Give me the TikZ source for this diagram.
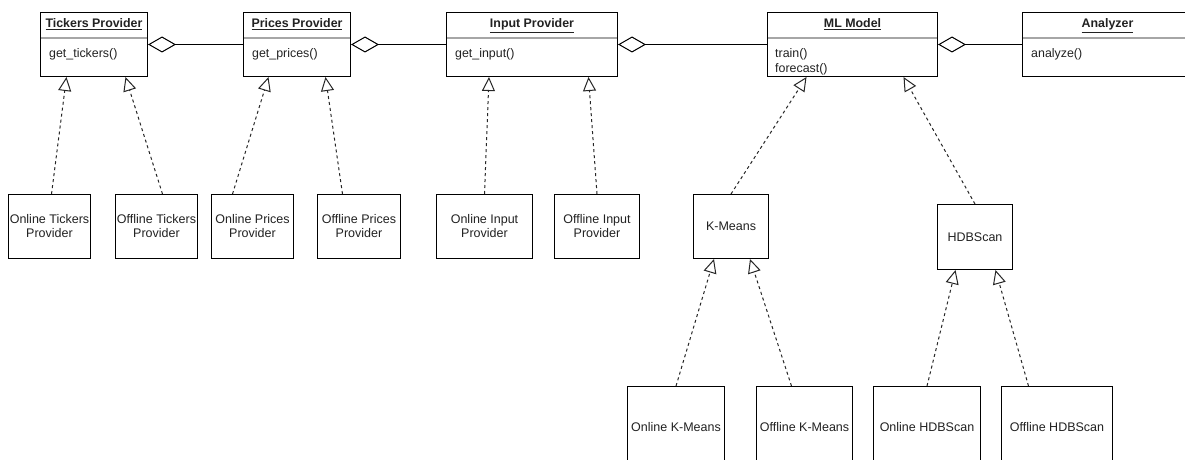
\documentclass[tikz,border=0pt]{standalone}
\usepackage{fontspec}
\setmainfont{Liberation Sans}
\usetikzlibrary{arrows.meta}
\definecolor{txt}{HTML}{222222}
\tikzset{
  box/.style={draw=black, line width=1pt, inner sep=0pt, anchor=north west, fill=white},
  clsbox/.style={box},
  title/.style={anchor=base, inner sep=0pt, font=\fontsize{12.4}{14}\selectfont\bfseries, text=txt},
  meth/.style={anchor=base west, inner sep=0pt, font=\fontsize{12.4}{15}\selectfont, text=txt, align=left},
  lbl/.style={align=center, font=\fontsize{12.5}{14}\selectfont, text=txt},
  sep/.style={draw=black!35, line width=1.6pt},
  realize/.style={draw=black!85, line width=1pt, dash pattern=on 3pt off 3pt,
    -{Triangle[length=14pt,width=13pt,fill=white,line width=1pt]}},
  aggr/.style={draw=black, line width=1pt,
    {Diamond[length=28pt,width=16pt,fill=white,line width=1pt]}-},
}
\begin{document}
\begin{tikzpicture}[x=1pt,y=-1pt]
\useasboundingbox (0,0) rectangle (1185,460);
\clip (0,0) rectangle (1185,460);
\fill[white] (0,0) rectangle (1185,460);

% top classes
\node[clsbox, minimum width=107, minimum height=64] (tp) at (40,12) {};
\node[clsbox, minimum width=107, minimum height=64] (pp) at (243,12) {};
\node[clsbox, minimum width=171, minimum height=64] (ip) at (446,12) {};
\node[clsbox, minimum width=170, minimum height=64] (ml) at (767,12) {};
\node[clsbox, minimum width=170, minimum height=64] (an) at (1022,12) {};

\foreach \n in {tp,pp,ip,ml,an}{
  \draw[sep] ([yshift=-26pt,xshift=1pt]\n.north west) -- ([yshift=-26pt,xshift=-1pt]\n.north east);
}

\node[title] (tpT) at ([yshift=-16pt]tp.north) {\underline{Tickers Provider}};
\node[title] (ppT) at ([yshift=-16pt]pp.north) {\underline{Prices Provider}};
\node[title] (ipT) at ([yshift=-16pt]ip.north) {\underline{Input Provider}};
\node[title] (mlT) at ([yshift=-16pt]ml.north) {\underline{ML Model}};
\node[title] (anT) at ([yshift=-16pt]an.north) {\underline{Analyzer}};

\node[meth] (tpM) at ([xshift=9pt,yshift=-45pt]tp.north west) {get\_tickers()};
\node[meth] (ppM) at ([xshift=9pt,yshift=-45pt]pp.north west) {get\_prices()};
\node[meth] (ipM) at ([xshift=9pt,yshift=-45pt]ip.north west) {get\_input()};
\node[meth, anchor=north west] (mlM) at ([xshift=8pt,yshift=-36pt]ml.north west) {train()\\forecast()};
\node[meth] (anM) at ([xshift=9pt,yshift=-45pt]an.north west) {analyze()};

% aggregations
\draw[aggr] (tp.east) -- (pp.west);
\draw[aggr] (pp.east) -- (ip.west);
\draw[aggr] (ip.east) -- (ml.west);
\draw[aggr] (ml.east) -- (an.west);

% implementation boxes
\node[box, minimum width=82, minimum height=64] (ot) at (8,194) {};
\node[lbl] (otL) at (ot.center) {Online Tickers\\Provider};
\node[box, minimum width=82, minimum height=64] (ft) at (115,194) {};
\node[lbl] (ftL) at (ft.center) {Offline Tickers\\Provider};
\node[box, minimum width=82, minimum height=64] (op) at (211,194) {};
\node[lbl] (opL) at (op.center) {Online Prices\\Provider};
\node[box, minimum width=83, minimum height=64] (fp) at (317,194) {};
\node[lbl] (fpL) at (fp.center) {Offline Prices\\Provider};
\node[box, minimum width=96, minimum height=64] (oi) at (436,194) {};
\node[lbl] (oiL) at (oi.center) {Online Input\\Provider};
\node[box, minimum width=85, minimum height=64] (fi) at (554,194) {};
\node[lbl] (fiL) at (fi.center) {Offline Input\\Provider};
\node[box, minimum width=75, minimum height=64] (km) at (693,194) {};
\node[lbl] (kmL) at (km.center) {K-Means};
\node[box, minimum width=75, minimum height=65] (hd) at (937,204) {};
\node[lbl] (hdL) at (hd.center) {HDBScan};

\node[box, minimum width=97, minimum height=82] (ok) at (627,386) {};
\node[lbl] (okL) at (ok.center) {Online K-Means};
\node[box, minimum width=96, minimum height=82] (fk) at (756,386) {};
\node[lbl] (fkL) at (fk.center) {Offline K-Means};
\node[box, minimum width=107, minimum height=82] (oh) at (873,386) {};
\node[lbl] (ohL) at (oh.center) {Online HDBScan};
\node[box, minimum width=111, minimum height=82] (fh) at (1001,386) {};
\node[lbl] (fhL) at (fh.center) {Offline HDBScan};

% realizations
\draw[realize] ([xshift=2pt]ot.north) -- ([xshift=-27.5pt]tp.south);
\draw[realize] ([xshift=6pt]ft.north) -- ([xshift=31.5pt]tp.south);
\draw[realize] ([xshift=-20pt]op.north) -- ([xshift=-28.5pt]pp.south);
\draw[realize] ([xshift=-16.5pt]fp.north) -- ([xshift=28.5pt]pp.south);
\draw[realize] (oi.north) -- ([xshift=-43pt]ip.south);
\draw[realize] (fi.north) -- ([xshift=56.5pt]ip.south);
\draw[realize] (km.north) -- ([xshift=-46pt]ml.south);
\draw[realize] (hd.north) -- ([xshift=51pt]ml.south);
\draw[realize] (ok.north) -- ([xshift=-17pt]km.south);
\draw[realize] ([xshift=-13pt]fk.north) -- ([xshift=19pt]km.south);
\draw[realize] (oh.north) -- ([xshift=-19.5pt]hd.south);
\draw[realize] ([xshift=-28.5pt]fh.north) -- ([xshift=20.5pt]hd.south);
\end{tikzpicture}
\end{document}
